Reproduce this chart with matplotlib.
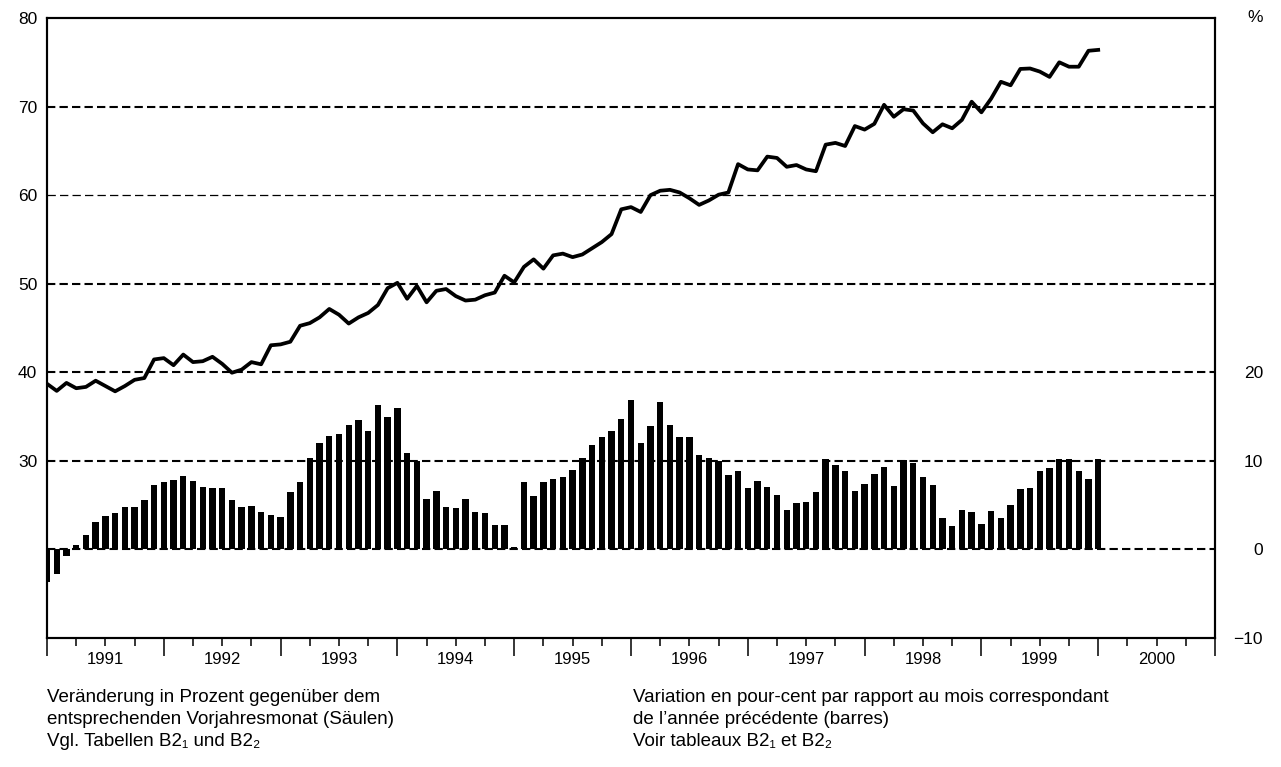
import matplotlib
matplotlib.use("Agg")
import matplotlib.pyplot as plt
import matplotlib.transforms as mtransforms
import numpy as np

plt.rcParams['font.family'] = ['Liberation Sans', 'DejaVu Sans']
plt.rcParams['lines.scale_dashes'] = False

# ---- data (monthly, plotted at month index 0..108 from start of 1991) ----
start_year = 1991
level = [38.7, 37.9, 38.8, 38.2, 38.35, 39.05, 38.45, 37.85, 38.45, 39.15, 39.35, 41.45,
         41.6, 40.8, 42.0, 41.15, 41.25, 41.75, 40.95, 39.95, 40.3, 41.15, 40.9, 43.05,
         43.15, 43.45, 45.25, 45.55, 46.2, 47.15, 46.5, 45.5, 46.2, 46.7, 47.6, 49.5,
         50.1, 48.3, 49.75, 47.9, 49.2, 49.4, 48.6, 48.1, 48.2, 48.7, 49.0, 50.9,
         50.15, 51.9, 52.75, 51.7, 53.2, 53.4, 53.0, 53.3, 54.0, 54.7, 55.6, 58.4,
         58.65, 58.1, 60.0, 60.5, 60.6, 60.3, 59.65, 58.9, 59.4, 60.05, 60.3, 63.5,
         62.9, 62.8, 64.35, 64.2, 63.2, 63.4, 62.9, 62.7, 65.7, 65.9, 65.55, 67.8,
         67.4, 68.05, 70.2, 68.85, 69.7, 69.55, 68.1, 67.1, 68.0, 67.55, 68.5, 70.55,
         69.35, 70.9, 72.8, 72.4, 74.25, 74.3, 73.95, 73.35, 75.0, 74.5, 74.5, 76.3,
         76.4]
change = [-3.65, -2.8, -0.7, 0.5, 1.6, 3.1, 3.8, 4.1, 4.8, 4.8, 5.6, 7.3,
          7.6, 7.8, 8.3, 7.7, 7.1, 6.9, 6.9, 5.6, 4.8, 4.9, 4.2, 3.9,
          3.7, 6.5, 7.6, 10.3, 12.0, 12.8, 13.0, 14.0, 14.6, 13.4, 16.3, 14.9,
          16.0, 10.9, 10.0, 5.7, 6.6, 4.8, 4.7, 5.7, 4.25, 4.1, 2.8, 2.8,
          0.26, 7.6, 6.0, 7.6, 7.95, 8.2, 9.0, 10.3, 11.8, 12.7, 13.4, 14.7,
          16.9, 12.0, 13.9, 16.7, 14.0, 12.7, 12.7, 10.7, 10.3, 10.0, 8.4, 8.8,
          6.9, 7.7, 7.1, 6.2, 4.4, 5.2, 5.4, 6.5, 10.2, 9.5, 8.8, 6.65,
          7.35, 8.5, 9.3, 7.2, 10.1, 9.75, 8.2, 7.3, 3.6, 2.7, 4.4, 4.2,
          2.85, 4.3, 3.5, 5.0, 6.85, 6.9, 8.8, 9.15, 10.2, 10.2, 8.8, 7.95,
          10.2]
years = list(range(1991, 2001))
left_ticks = [30, 40, 50, 60, 70, 80]
right_ticks = [-10, 0, 10, 20]
right_labels = ['\u221210', '0', '10', '20']

x = start_year + np.arange(len(level)) / 12.0

W, H = 1281, 767
fig = plt.figure(figsize=(W / 100, H / 100), dpi=100)
L, R, T, B = 47, 1215, 18, 638
ax = fig.add_axes([L / W, 1 - B / H, (R - L) / W, (B - T) / H])
ax2 = ax.twinx()

ax.set_xlim(1991, 2001)
ax.set_ylim(10, 80)
ax2.set_ylim(-10, 60)

dash = (0, (6, 3))
for yv in [30, 40, 50, 70]:
    ax.axhline(yv, color='black', lw=1.5, linestyle=dash, zorder=1)
ax.axhline(60, color='black', lw=0.9, linestyle=dash, zorder=1)
ax2.axhline(0, color='black', lw=1.5, linestyle=dash, zorder=1)

ax2.bar(x, change, width=0.66 / 12, color='black', zorder=2, linewidth=0)
ax.plot(x, level, color='black', lw=2.7, solid_joinstyle='round', zorder=3)

for a in (ax, ax2):
    for s in a.spines.values():
        s.set_linewidth(1.5)
        s.set_color('black')

ax.set_yticks(left_ticks)
ax.set_yticklabels([str(v) for v in left_ticks])
ax.tick_params(axis='y', length=0, pad=7, labelsize=12.5)

ax2.set_yticks(right_ticks)
ax2.set_yticklabels(right_labels)
ax2.tick_params(axis='y', length=0, pad=34.5, labelsize=12.5)
for lbl in ax2.get_yticklabels():
    lbl.set_horizontalalignment('right')

ax.set_xticks(list(range(1991, 2002)))
ax.set_xticks(np.arange(1991, 2001.01, 0.25), minor=True)
ax.tick_params(axis='x', which='major', length=13, width=1.1, labelbottom=False, direction='out')
ax.tick_params(axis='x', which='minor', length=6, width=1.1, labelbottom=False, direction='out')
ax2.tick_params(axis='x', which='both', length=0)

trans = mtransforms.blended_transform_factory(ax.transData, ax.transAxes)
for yr in years:
    ax.text(yr + 0.5, -22 / (B - T), str(yr), transform=trans, ha='center', va='center',
            fontsize=12, color='black')

trans2 = mtransforms.blended_transform_factory(fig.transFigure, ax2.transData)
ax2.text(1263 / W, 60, '%', transform=trans2, ha='right', va='center', fontsize=12.5)

de_lines = ['Veränderung in Prozent gegenüber dem',
            'entsprechenden Vorjahresmonat (Säulen)',
            'Vgl. Tabellen B2\u2081 und B2\u2082']
fr_lines = ['Variation en pour-cent par rapport au mois correspondant',
            'de l\u2019année précédente (barres)',
            'Voir tableaux B2\u2081 et B2\u2082']
for i, (d, f) in enumerate(zip(de_lines, fr_lines)):
    yy = 1 - (697 + 22.5 * i) / H
    fig.text(47 / W, yy, d, ha='left', va='center', fontsize=13.5)
    fig.text(633 / W, yy, f, ha='left', va='center', fontsize=13.5)

fig.savefig('out.png', dpi=100)
